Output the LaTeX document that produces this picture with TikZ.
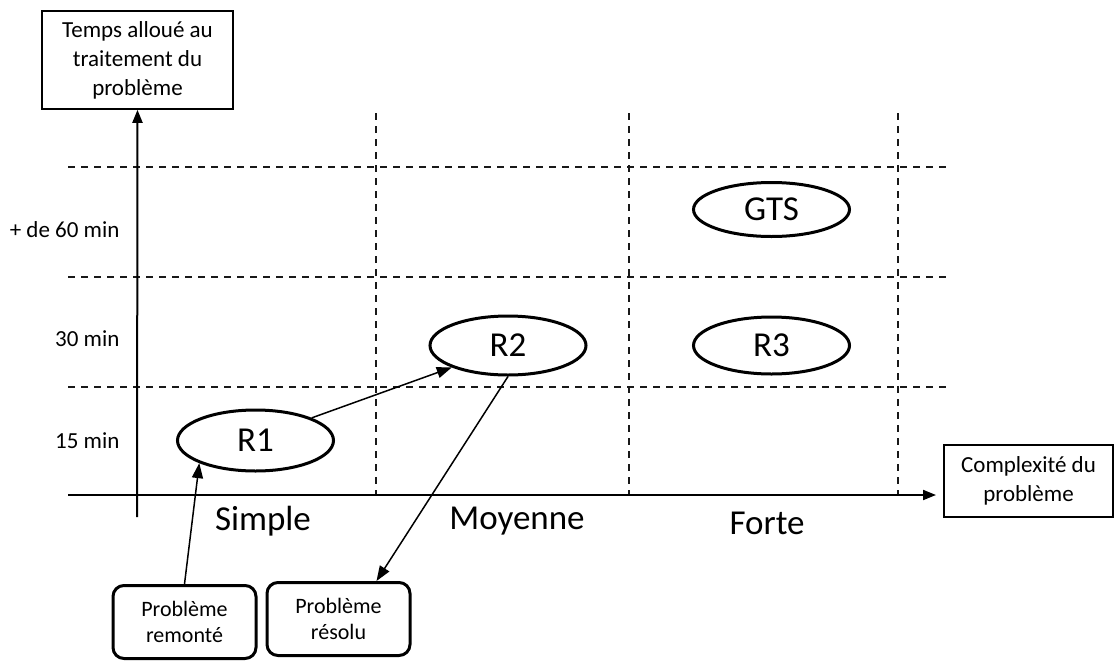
\documentclass[tikz,border=0pt]{standalone}
\usepackage{fontspec}
\setmainfont{Carlito}
\usetikzlibrary{shapes.geometric,arrows.meta,calc}
\begin{document}
\begin{tikzpicture}[x=1pt,y=-1pt,
  small/.style={font=\fontsize{23}{29}\selectfont},
  big/.style={font=\fontsize{35}{40}\selectfont},
  axisbox/.style={draw,line width=1.6pt,small,align=center,inner sep=0pt},
  casebox/.style={draw,line width=3pt,rounded corners=11pt,align=center,inner sep=0pt,
    minimum width=143pt,minimum height=73pt,font=\fontsize{22}{26}\selectfont},
  level/.style={draw,ellipse,line width=3pt,big,minimum width=156pt,minimum height=60pt,inner sep=0pt},
  grid/.style={dash pattern=on 7pt off 6pt,line width=1.8pt,black!90},
  axis/.style={line width=2pt,-{Triangle[length=13pt,width=10pt]}},
  flow/.style={line width=1.5pt,-{Triangle[length=15pt,width=11pt]}}]
\useasboundingbox (0,0) rectangle (1115,661);

% axis title boxes
\node[axisbox,minimum width=191pt,minimum height=98pt] (tbox) at (137.5,60)
  {Temps alloué au\\traitement du\\problème};
\node[axisbox,minimum width=169pt,minimum height=72pt] (cbox) at (1028.5,481)
  {Complexité du\\problème};

% dashed grid
\foreach \yy in {167,277,387}
  \draw[grid] (68,\yy) -- (947,\yy);
\foreach \xx in {376,629,898}
  \draw[grid] (\xx,113) -- (\xx,495);

% axes
\coordinate (yo) at (137,517);
\coordinate (xo) at (68,495);
\coordinate (xend) at (936,495);
\draw[axis] (yo) -- (tbox.south);
\draw[axis] (xo) -- (xend);

% time levels
\node[small,anchor=east] (t60) at (123,230) {+ de 60 min};
\node[small,anchor=east] (t30) at (123,339) {30 min};
\node[small,anchor=east] (t15) at (123,441) {15 min};

% complexity levels
\node[big] (simple) at (263,521) {Simple};
\node[big] (moyenne) at (517,521) {Moyenne};
\node[big] (forte) at (767,523) {Forte};

% support levels
\node[level,minimum height=61pt] (R1) at (255.5,440.5) {R1};
\node[level,minimum height=59pt] (R2) at (508,345.5) {R2};
\node[level,minimum height=54pt] (GTS) at (771.5,209.5) {GTS};
\node[level,minimum height=57pt] (R3) at (771.5,345.5) {R3};

% problem cases
\node[casebox] (B1) at (184.5,622) {Problème\\remonté};
\node[casebox] (B2) at (338.5,619) {Problème\\résolu};

% escalation path
\draw[flow] (B1.north) -- (R1.south west);
\draw[flow] (R1.north east) -- (R2.south west);
\draw[flow] (R2.south) -- ([xshift=38pt]B2.north);
\end{tikzpicture}
\end{document}
